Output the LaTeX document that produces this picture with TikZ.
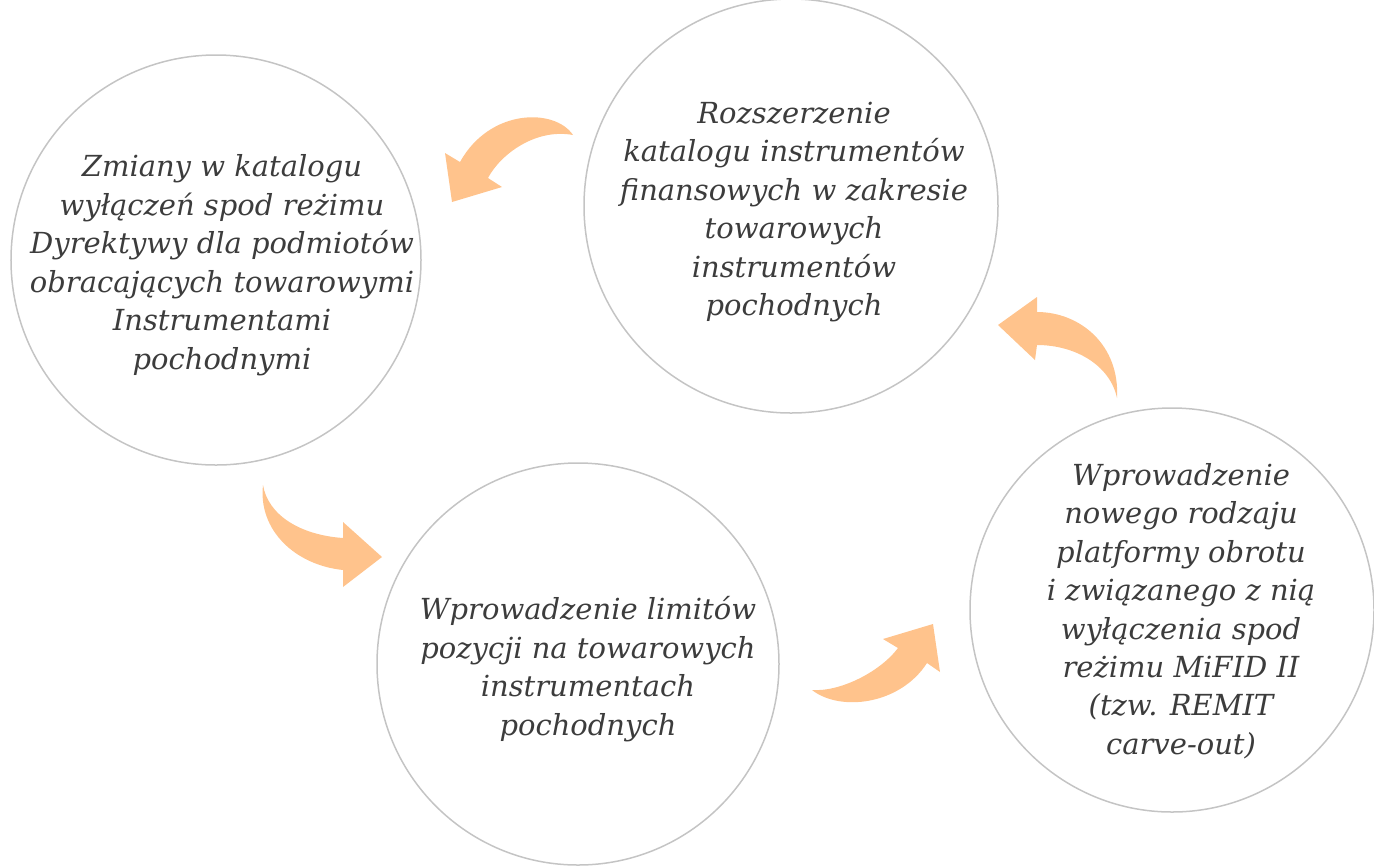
\documentclass[tikz,border=0pt]{standalone}
\usepackage{fontspec}
\setmainfont{DejaVu Serif}
\usetikzlibrary{positioning}
\definecolor{ringgray}{HTML}{C4C4C4}
\definecolor{textgray}{HTML}{3C3C3C}
\definecolor{bendorange}{HTML}{FFC38C}
\begin{document}
\begin{tikzpicture}[x=0.2mm, y=-0.2mm,
    stage/.style={circle, draw=ringgray, line width=0.3mm, inner sep=0pt},
    caption/.style={align=center, text=textgray, inner sep=0pt,
      font=\itshape\fontsize{16.5}{21.9}\selectfont},
    cyclearrow/.style={fill=bendorange}]

            \useasboundingbox (0,0) rectangle (1374,865);

            \node[stage, minimum size=82mm, label={[caption, xshift=1.2mm, yshift=-1mm]center:{Zmiany w katalogu\\wyłączeń spod reżimu\\Dyrektywy dla podmiotów\\obracających towarowymi\\Instrumentami\\pochodnymi}}] (K) at (216,260) {};
            \node[stage, minimum size=82.8mm, label={[caption, xshift=0.6mm, yshift=-1.2mm]center:{Rozszerzenie\\katalogu instrumentów\\finansowych w zakresie\\towarowych\\instrumentów\\pochodnych}}] (R) at (791,206) {};
            \node[stage, minimum size=80.4mm, label={[caption, xshift=2mm, yshift=-1mm]center:{Wprowadzenie limitów\\pozycji na towarowych\\instrumentach\\pochodnych}}] (L) at (578,664) {};
            \node[stage, minimum size=80.8mm, label={[caption, xshift=1.8mm, yshift=-0.2mm]center:{Wprowadzenie\\nowego rodzaju\\platformy obrotu\\i związanego z nią\\wyłączenia spod\\reżimu MiFID II\\(tzw. REMIT\\carve-out)}}] (P) at (1172,610) {};

            % curved arrows between the circles
            \fill[cyclearrow] (573,135) .. controls (555,108) and (490,108) .. (460,162)
                -- (445,153) -- (452,202) -- (502,187) -- (488,178)
                .. controls (500,155) and (535,128) .. (573,135) -- cycle;
            \fill[cyclearrow] (263,485) .. controls (258,530) and (295,565) .. (343,570)
                -- (343,587) -- (382,557) -- (343,522) -- (343,538)
                .. controls (300,535) and (268,515) .. (263,485) -- cycle;
            \fill[cyclearrow] (812,690) .. controls (840,712) and (900,705) .. (927,663)
                -- (940,672) -- (933,624) -- (883,639) -- (898,648)
                .. controls (880,672) and (840,692) .. (812,690) -- cycle;
            \fill[cyclearrow] (1117,398) .. controls (1120,345) and (1080,312) .. (1037,312)
                -- (1037,297) -- (998,325) -- (1035,360) -- (1037,345)
                .. controls (1075,345) and (1110,365) .. (1117,398) -- cycle;
        \end{tikzpicture}
\end{document}
